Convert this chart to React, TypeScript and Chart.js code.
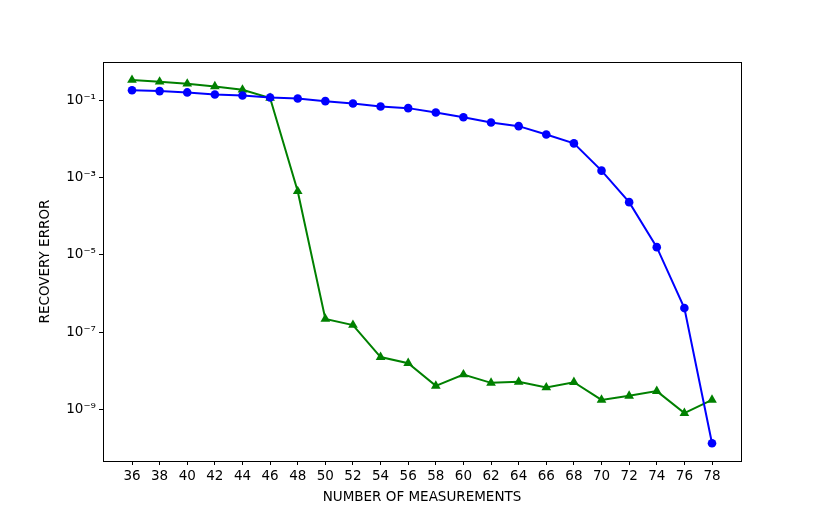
import React, { useEffect, useRef } from "react";
import { Chart, registerables } from "chart.js";

Chart.register(...registerables);

const measurements = [36, 38, 40, 42, 44, 46, 48, 50, 52, 54, 56, 58, 60, 62, 64, 66, 68, 70, 72, 74, 76, 78];
const blueErrors = [0.18, 0.171, 0.158, 0.14, 0.132, 0.117, 0.11, 0.094, 0.082, 0.0686, 0.062, 0.048, 0.036, 0.0264, 0.0212, 0.0129, 0.0076, 0.0015, 2.3e-4, 1.58e-5, 4.2e-7, 1.35e-10];
const greenErrors = [0.33, 0.297, 0.264, 0.226, 0.185, 0.113, 4.4e-4, 2.2e-7, 1.53e-7, 2.27e-8, 1.58e-8, 4.1e-9, 8.05e-9, 4.9e-9, 5.2e-9, 3.7e-9, 5.1e-9, 1.78e-9, 2.26e-9, 3.0e-9, 8.1e-10, 1.78e-9];
const xTicks = [36, 38, 40, 42, 44, 46, 48, 50, 52, 54, 56, 58, 60, 62, 64, 66, 68, 70, 72, 74, 76, 78];
const yTicks = [1e-9, 1e-7, 1e-5, 1e-3, 1e-1];
const yTickLabels = ["10⁻⁹", "10⁻⁷", "10⁻⁵", "10⁻³", "10⁻¹"];

const FONT = "'DejaVu Sans', sans-serif";

const framePlugin = {
  id: "frame",
  afterDraw(chart: any) {
    const { ctx, chartArea } = chart;
    ctx.save();
    ctx.strokeStyle = "#000";
    ctx.lineWidth = 1;
    ctx.strokeRect(
      Math.round(chartArea.left) + 0.5,
      Math.round(chartArea.top) + 0.5,
      Math.round(chartArea.right - chartArea.left),
      Math.round(chartArea.bottom - chartArea.top)
    );
    ctx.restore();
  },
};

export default function App() {
  const ref = useRef<HTMLCanvasElement>(null);
  useEffect(() => {
    if (!ref.current) return;
    const chart = new Chart(ref.current, {
      type: "line",
      data: {
        datasets: [
          {
            data: measurements.map((x, i) => ({ x, y: blueErrors[i] })),
            borderColor: "#0000ff",
            backgroundColor: "#0000ff",
            borderWidth: 2,
            pointStyle: "circle",
            pointRadius: 4.3,
            pointBorderWidth: 0,
          },
          {
            data: measurements.map((x, i) => ({ x, y: greenErrors[i] })),
            borderColor: "#008000",
            backgroundColor: "#008000",
            borderWidth: 2,
            pointStyle: "triangle",
            pointRadius: 5.6,
            pointBorderWidth: 0,
          },
        ],
      },
      options: {
        animation: false,
        responsive: false,
        maintainAspectRatio: false,
        layout: { padding: { top: 62, right: 83, left: 37, bottom: 12 } },
        plugins: { legend: { display: false }, tooltip: { enabled: false } },
        scales: {
          x: {
            type: "linear",
            min: 33.9,
            max: 80.1,
            afterBuildTicks(axis: any) {
              axis.ticks = xTicks.map((v) => ({ value: v }));
            },
            afterFit(axis: any) {
              axis.height = 45;
            },
            grid: { display: true, drawOnChartArea: false, color: "#000", tickLength: 4, tickWidth: 1 },
            border: { display: true, color: "#000" },
            ticks: {
              color: "#000",
              font: { family: FONT, size: 13.5 },
              padding: 3,
              maxRotation: 0,
              autoSkip: false,
              callback: (v: any) => String(v),
            },
            title: {
              display: true,
              text: "NUMBER OF MEASUREMENTS",
              color: "#000",
              font: { family: FONT, size: 13.5 },
              padding: { top: 4, bottom: 0 },
            },
          },
          y: {
            type: "logarithmic",
            min: Math.pow(10, -10.33),
            max: Math.pow(10, -0.015),
            afterBuildTicks(axis: any) {
              axis.ticks = yTicks.map((v) => ({ value: v }));
            },
            afterFit(axis: any) {
              axis.width = 66;
            },
            grid: { display: true, drawOnChartArea: false, color: "#000", tickLength: 4, tickWidth: 1 },
            border: { display: true, color: "#000" },
            ticks: {
              color: "#000",
              font: { family: FONT, size: 13.5 },
              padding: 3,
              autoSkip: false,
              callback: (v: any) => {
                const idx = yTicks.findIndex((t) => Math.abs(Math.log10(t) - Math.log10(Number(v))) < 0.01);
                return idx >= 0 ? yTickLabels[idx] : "";
              },
            },
            title: {
              display: true,
              text: "RECOVERY ERROR",
              color: "#000",
              font: { family: FONT, size: 13.5 },
              padding: { top: 0, bottom: 0 },
            },
          },
        },
      },
      plugins: [framePlugin],
    });
    return () => chart.destroy();
  }, []);
  return (
    <div style={{ position: "fixed", left: 0, top: 0, width: 824, height: 518, background: "#fff" }}>
      <canvas ref={ref} width={824} height={518} style={{ width: 824, height: 518 }} />
    </div>
  );
}
